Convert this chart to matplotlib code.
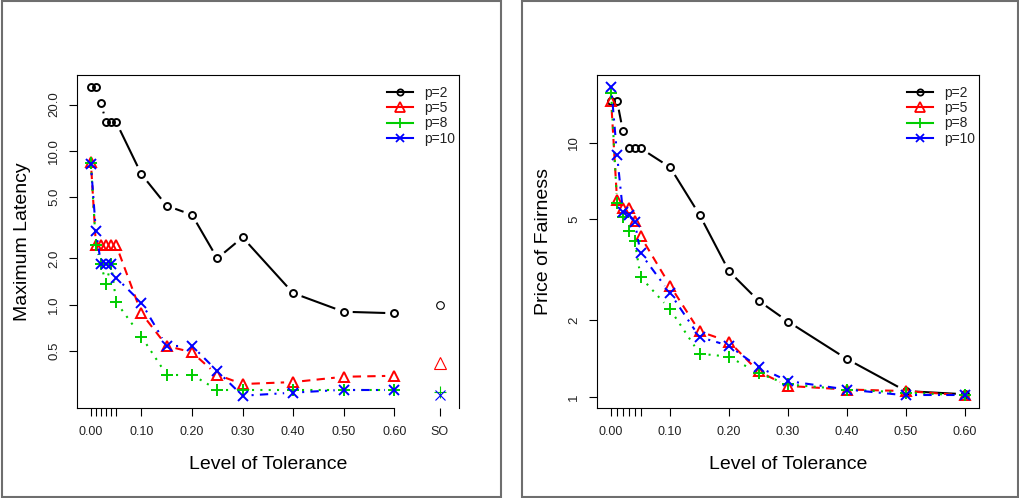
import numpy as np
import matplotlib
matplotlib.use("Agg")
import matplotlib.pyplot as plt
from matplotlib.lines import Line2D
from matplotlib.patches import Rectangle

plt.rcParams['font.family'] = ['Liberation Sans', 'DejaVu Sans']

# tolerance levels (x axis)
tolerance = [0, 0.01, 0.02, 0.03, 0.04, 0.05, 0.10, 0.15, 0.20, 0.25, 0.30, 0.40, 0.50, 0.60]
so_pos = 0.69

# left panel: maximum latency
lat_p2 = [26, 26, 20.5, 15.4, 15.4, 15.4, 7.05, 4.4, 3.84, 2.0, 2.74, 1.19, 0.90, 0.88]
lat_p5 = [8.5, 2.44, 2.44, 2.44, 2.44, 2.44, 0.88, 0.54, 0.49, 0.35, 0.305, 0.314, 0.34, 0.345]
lat_p8 = [8.3, 2.44, 1.85, 1.36, 1.85, 1.04, 0.62, 0.35, 0.35, 0.28, 0.28, 0.28, 0.28, 0.28]
lat_p10 = [8.2, 3.0, 1.85, 1.85, 1.85, 1.5, 1.03, 0.54, 0.54, 0.37, 0.256, 0.268, 0.28, 0.28]
lat_so = [1.0, 0.42, 0.27, 0.26]

# right panel: price of fairness
pof_p2 = [14.6, 14.6, 11.1, 9.5, 9.5, 9.5, 8.0, 5.2, 3.12, 2.39, 1.98, 1.41, 1.055, 1.025]
pof_p5 = [14.6, 5.95, 5.55, 5.55, 4.92, 4.28, 2.74, 1.81, 1.65, 1.26, 1.105, 1.07, 1.055, 1.015]
pof_p8 = [15.7, 5.8, 5.1, 4.5, 4.1, 2.96, 2.21, 1.48, 1.44, 1.24, 1.12, 1.07, 1.04, 1.015]
pof_p10 = [16.6, 8.95, 5.35, 5.2, 4.88, 3.67, 2.56, 1.72, 1.59, 1.31, 1.155, 1.07, 1.015, 1.015]

labels = ["p=2", "p=5", "p=8", "p=10"]
colors = ["black", "#FF0000", "#00CD00", "#0000FF"]
styles = ["-", (0, (4, 3)), (0, (1, 3)), (0, (1, 3, 4, 3))]
markers = ["o", "^", "+", "x"]
msizes = [5, 7.5, 8, 6.5]

W, H = 1020, 498
fig = plt.figure(figsize=(W / 100, H / 100), dpi=100)

# grey frames around each panel
fig.patches.append(Rectangle((2 / W, 1 / H), 499 / W, 496 / H, transform=fig.transFigure,
                             fill=False, edgecolor="#6e6e6e", lw=1.5))
fig.patches.append(Rectangle((522 / W, 1 / H), 496 / W, 496 / H, transform=fig.transFigure,
                             fill=False, edgecolor="#6e6e6e", lw=1.5))

ax1 = fig.add_axes([76.7 / W, 1 - 408 / H, (459 - 76.7) / W, (408 - 74.7) / H])
ax2 = fig.add_axes([597 / W, 1 - 408 / H, (979 - 597) / W, (408 - 74.7) / H])

for ax in (ax1, ax2):
    ax.set_yscale("log")
    for s in ax.spines.values():
        s.set_linewidth(0.8)

ax1.set_xlim(-0.028, 0.728)
ax1.set_ylim(0.213, 31.3)
ax2.set_xlim(-0.024, 0.624)
ax2.set_ylim(0.905, 18.5)


def type_b(ax, x, y, color, ls, marker, ms, gap=9.0):
    # R style type="b": markers with short gaps in the connecting lines
    fig.canvas.draw()
    pts = ax.transData.transform(np.column_stack([x, y]))
    inv = ax.transData.inverted()
    for p0, p1 in zip(pts[:-1], pts[1:]):
        d = p1 - p0
        length = np.hypot(d[0], d[1])
        if length <= 2 * gap + 1:
            continue
        u = d / length
        a = inv.transform(p0 + u * gap)
        b = inv.transform(p1 - u * gap)
        ax.plot([a[0], b[0]], [a[1], b[1]], color=color, linestyle=ls, lw=1.5,
                dash_capstyle="butt", solid_capstyle="butt")
    ax.plot(x, y, linestyle="none", marker=marker, ms=ms, mfc="none", mec=color, mew=1.4)


for ser, c, ls, m, ms in zip([lat_p2, lat_p5, lat_p8, lat_p10], colors, styles, markers, msizes):
    type_b(ax1, tolerance, ser, c, ls, m, ms)
for v, c, m, ms in zip(lat_so, colors, markers, msizes):
    ax1.plot([so_pos], [v], linestyle="none", marker=m, ms=ms + 0.5, mfc="none", mec=c, mew=0.8)

for ser, c, ls, m, ms in zip([pof_p2, pof_p5, pof_p8, pof_p10], colors, styles, markers, msizes):
    type_b(ax2, tolerance, ser, c, ls, m, ms)

# x axes
major = [0, 0.1, 0.2, 0.3, 0.4, 0.5, 0.6]
minor = [0.01, 0.02, 0.03, 0.04, 0.05]
major_lbl = ["0.00", "0.10", "0.20", "0.30", "0.40", "0.50", "0.60"]
ax1.set_xticks(major + [so_pos], major_lbl + ["SO"])
ax2.set_xticks(major, major_lbl)
for ax in (ax1, ax2):
    ax.set_xticks(minor, minor=True)
    ax.tick_params(axis="x", which="both", length=6, width=0.8, pad=7, labelsize=9,
                   labelcolor="#222222")
    ax.set_xlabel("Level of Tolerance", fontsize=14, labelpad=13)
ax1.spines["bottom"].set_bounds(-0.028, 0.6)

# y axes
ax1.set_yticks([0.5, 1, 2, 5, 10, 20], ["0.5", "1.0", "2.0", "5.0", "10.0", "20.0"])
ax2.set_yticks([1, 2, 5, 10], ["1", "2", "5", "10"])
for ax in (ax1, ax2):
    ax.yaxis.set_minor_locator(matplotlib.ticker.NullLocator())
    ax.tick_params(axis="y", length=6, width=0.8, pad=6, labelsize=9.5, labelrotation=90,
                   labelcolor="#222222")
    for t in ax.get_yticklabels():
        t.set_va("center")
ax1.set_ylabel("Maximum Latency", fontsize=14, labelpad=12)
ax2.set_ylabel("Price of Fairness", fontsize=14, labelpad=12)

handles = [Line2D([], [], color=c, lw=1.5, marker=m, ms=ms * 0.9, mfc="none", mew=1.3)
           for c, m, ms in zip(colors, markers, msizes)]
for ax in (ax1, ax2):
    ax.legend(handles, labels, loc="upper left", bbox_to_anchor=(0.811, 0.967), frameon=False,
              fontsize=10, handlelength=1.9, handletextpad=0.8, borderpad=0,
              borderaxespad=0, labelspacing=0.1, labelcolor="#222222")

fig.savefig("out.png", dpi=100)
